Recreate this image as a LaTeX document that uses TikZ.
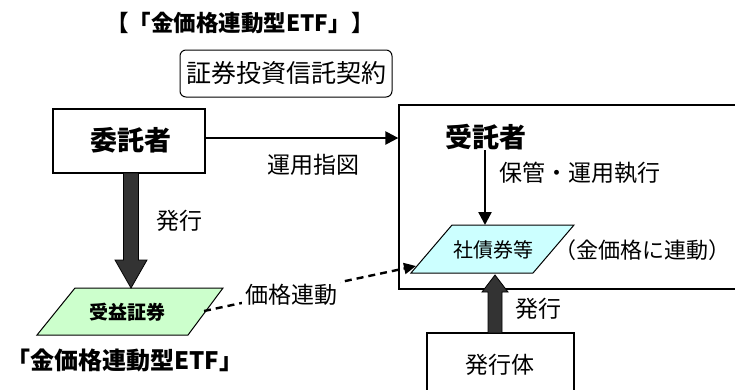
\documentclass[tikz,border=0pt]{standalone}
\usepackage{fontspec}
\setmainfont{Noto Sans CJK JP}
\usetikzlibrary{arrows.meta,calc}
\definecolor{darkfill}{HTML}{333333}
\definecolor{greenfill}{HTML}{CCFFCC}
\definecolor{cyanfill}{HTML}{CCFFFF}
\tikzset{
  boxnode/.style={draw=black,line width=1.3pt,fill=white,inner sep=0pt},
  lbl/.style={inner sep=1pt,font=\fontsize{23}{25}\selectfont},
  boldlbl/.style={inner sep=1pt,font=\bfseries\fontsize{27}{29}\selectfont},
  thinarrow/.style={line width=2.4pt,-{Triangle[length=13pt,width=13pt]}},
  heavyarrow/.style={draw=black,line width=0.8pt,fill=darkfill},
}
\begin{document}
\begin{tikzpicture}[x=1pt,y=-1pt]
\useasboundingbox (0,0) rectangle (735,389);
% title
\node[inner sep=0pt,font=\bfseries\fontsize{22.5}{24}\selectfont] (title) at (240,23) {【「金価格連動型ETF」】};
% contract box
\node[draw=black,line width=1pt,rounded corners=6pt,minimum width=212pt,minimum height=47pt,inner sep=0pt,font=\fontsize{25}{27}\selectfont] (contract) at (286,73.5) {証券投資信託契約};
% trustee outer box
\node[boxnode,minimum width=350pt,minimum height=184pt] (trust) at (574,197) {};
% settlor box
\node[boxnode,minimum width=152pt,minimum height=64pt] (itaku) at (129,141) {};
\node[boldlbl] (itakutext) at (131,140) {委託者};
% issuer box
\node[boxnode,minimum width=147pt,minimum height=90pt] (hakko) at (500.5,378) {};
\node[lbl] (hakkotext) at (500,365) {発行体};
% bond parallelogram
\draw[line width=1pt,fill=cyanfill] (452,225) coordinate (bondTL) -- (574,225) -- (533,273) -- (411,273) coordinate (bondBL) -- cycle;
\node[inner sep=0pt,font=\fontsize{20}{22}\selectfont] (bond) at (493,250) {社債券等};
\coordinate (bondtop) at (485,225);
\coordinate (bondbot) at (495,273);
\coordinate (bondleft) at (416,266);
% beneficiary certificate parallelogram
\draw[line width=1pt,fill=greenfill] (75,288) -- (223,288) -- (188,335) -- (37,335) -- cycle;
\node[inner sep=0pt,font=\bfseries\fontsize{19}{21}\selectfont] (juueki) at (127,312) {受益証券};
\coordinate (juuekitop) at (131,288);
\coordinate (juuekiright) at (204,311);
% trustee label
\node[boldlbl] (jutaku) at (486,137) {受託者};
% arrows
\draw[thinarrow] (itaku.east |- 0,138) -- (trust.west |- 0,138);
\draw[thinarrow] (485,150) -- (bondtop);
% dashed link
\draw[line width=2.4pt,dash pattern=on 7pt off 5pt,-{Triangle[length=12pt,width=11pt]}] (juuekiright) -- (bondleft);
\node[lbl,fill=white,inner sep=3pt] (kakaku) at (291,295) {価格連動};
% heavy arrow down
\path[heavyarrow] ($(juuekitop)+(-7.5,-115)$) -- ($(juuekitop)+(7.5,-115)$) -- ($(juuekitop)+(7.5,-28)$) -- ($(juuekitop)+(16,-28)$) -- (juuekitop) -- ($(juuekitop)+(-16,-28)$) -- ($(juuekitop)+(-7.5,-28)$) -- cycle;
% heavy arrow up
\coordinate (hakkotop) at (hakko.north);
\path[heavyarrow] ($(bondbot)+(-7,60)$) -- ($(bondbot)+(7,60)$) -- ($(bondbot)+(7,19)$) -- ($(bondbot)+(13,19)$) -- ($(bondbot)+(0,2)$) -- ($(bondbot)+(-13,19)$) -- ($(bondbot)+(-7,19)$) -- cycle;
% labels
\node[lbl] (unyo) at (313,165) {運用指図};
\node[lbl] (hakkoL) at (179,221) {発行};
\node[lbl] (hakkoR) at (538,309) {発行};
\node[lbl] (hokan) at (580,173) {保管・運用執行};
\node[inner sep=0pt,font=\fontsize{22}{24}\selectfont] (renkei) at (642,250) {（金価格に連動）};
\node[inner sep=0pt,font=\bfseries\fontsize{24}{26}\selectfont] (etf) at (125,360) {「金価格連動型ETF」};
\end{tikzpicture}
\end{document}
